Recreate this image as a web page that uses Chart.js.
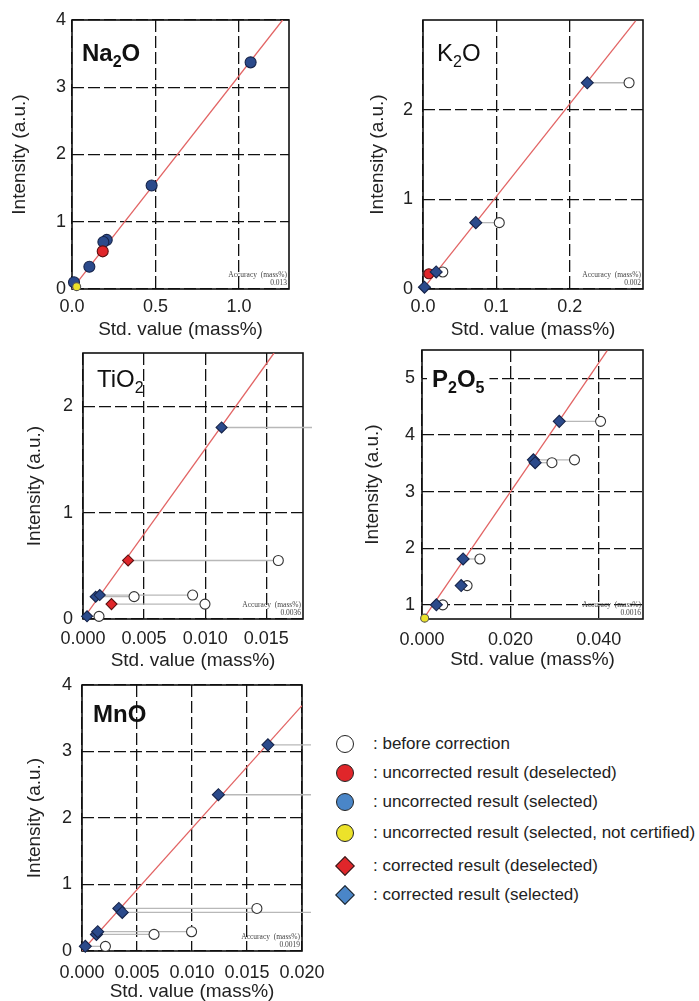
<!DOCTYPE html>
<html>
<head>
<meta charset="utf-8">
<script src="https://cdn.jsdelivr.net/npm/chart.js@4.4.1/dist/chart.umd.min.js"></script>
<style>
  html, body { margin: 0; padding: 0; background: #fff; width: 699px; height: 1001px; overflow: hidden; }
  body { position: relative; font-family: "Liberation Sans", Arial, sans-serif; }
  canvas { position: absolute; }
  .item { position: absolute; left: 373px; font-size: 17px; line-height: 20px; color: #222; white-space: nowrap; }
  .mk { position: absolute; box-sizing: border-box; border: 1.5px solid #222; }
</style>
</head>
<body>
<div id="legend"></div>
<script>
// calibration panels

// Na2O
const naSelX = [1.07, 0.477, 0.208, 0.188, 0.104, 0.012];
const naSelY = [3.37, 1.54, 0.73, 0.70, 0.33, 0.10];
const naDeselX = [0.184];
const naDeselY = [0.56];
const naUncertX = [0.028];
const naUncertY = [0.035];
const naLineX = [0, 1.262];
const naLineY = [0, 4.0];
const naXTicks = [0, 0.5, 1.0];
const naXLabels = ['0.0', '0.5', '1.0'];
const naYTicks = [0, 1, 2, 3, 4];

// K2O
const kCorrX = [0.224, 0.072, 0.018, 0.002];
const kCorrY = [2.30, 0.74, 0.19, 0.02];
const kBeforeX = [0.281, 0.104, 0.027, null];
const kDeselX = [0.008];
const kDeselY = [0.17];
const kLineX = [0, 0.290];
const kLineY = [0, 2.99];
const kXTicks = [0, 0.1, 0.2];
const kXLabels = ['0.0', '0.1', '0.2'];
const kYTicks = [0, 1, 2];

// TiO2
const tiCorrX = [0.01134, 0.00104, 0.00137, 0.00033];
const tiCorrY = [1.80, 0.21, 0.225, 0.025];
const tiBeforeX = [0.0225, 0.00418, 0.00897, 0.00131];
const tiCorrDeselX = [0.00369, 0.00233];
const tiCorrDeselY = [0.55, 0.14];
const tiDeselBeforeX = [0.01598, 0.00998];
const tiLineX = [0, 0.01563];
const tiLineY = [0, 2.5];
const tiXTicks = [0, 0.005, 0.010, 0.015];
const tiXLabels = ['0.000', '0.005', '0.010', '0.015'];
const tiYTicks = [0, 1, 2];

// P2O5
const pCorrX = [0.03105, 0.0252, 0.0256, 0.0093, 0.00886, 0.00325];
const pCorrY = [4.24, 3.56, 3.51, 1.81, 1.34, 1.00];
const pBeforeX = [0.0404, 0.0345, 0.0294, 0.0131, 0.0102, 0.0047];
const pUncertX = [0.0006];
const pUncertY = [0.765];
const pLineX = [0, 0.0419];
const pLineY = [0.716, 5.49];
const pXTicks = [0, 0.020, 0.040];
const pXLabels = ['0.000', '0.020', '0.040'];
const pYTicks = [1, 2, 3, 4, 5];

// MnO
const mnCorrX = [0.0169, 0.0124, 0.00335, 0.00366, 0.00131, 0.00143, 0.0003];
const mnCorrY = [3.10, 2.35, 0.64, 0.58, 0.25, 0.29, 0.07];
const mnBeforeX = [0.0245, 0.0235, 0.0159, 0.0255, 0.00655, 0.00996, 0.00213];
const mnLineX = [0, 0.020];
const mnLineY = [0, 3.69];
const mnXTicks = [0, 0.005, 0.010, 0.015, 0.020];
const mnXLabels = ['0.000', '0.005', '0.010', '0.015', '0.020'];
const mnYTicks = [0, 1, 2, 3, 4];

const legendLabels = [
  ': before correction',
  ': uncorrected result (deselected)',
  ': uncorrected result (selected)',
  ': uncorrected result (selected, not certified)',
  ': corrected result (deselected)',
  ': corrected result (selected)'
];

const FONT = '"Liberation Sans", Arial, sans-serif';
const NAVY = '#2b4a8b', NAVY_EDGE = '#16244a';
const RED = '#e0262a', RED_EDGE = '#5a1010';
const YELLOW = '#ece22a';
const TITLE_SIZE = 19;

Chart.defaults.font.family = FONT;
Chart.defaults.color = '#222';

const pts = (xs, ys) => xs.map((x, i) => ({ x, y: ys[i] }));

// layout of each panel on the page (chart area, canvas box, text positions)
const panels = [
  {
    area: { l: 72, t: 20, r: 289, b: 289 }, box: { x: 6, y: 0, w: 308, h: 342 },
    xTitleY: 330, yTitleX: 20, xPad: 7, yPad: 6,
    x: [0, 1.3], y: [0, 4], xTicks: naXTicks, xLabels: naXLabels, yTicks: naYTicks,
    name: [['Na', 0], ['2', 1], ['O', 0]], bold: true, nameX: 82, nameY: 61, nameBg: false,
    acc: '0.013',
    lines: [pts(naLineX, naLineY)], links: [],
    marks: [
      { data: pts(naSelX, naSelY), style: 'circle', fill: NAVY, edge: NAVY_EDGE, r: 5.5 },
      { data: pts(naDeselX, naDeselY), style: 'circle', fill: RED, edge: RED_EDGE, r: 5.5 },
      { data: pts(naUncertX, naUncertY), style: 'circle', fill: YELLOW, edge: '#555', r: 4 }
    ]
  },
  {
    area: { l: 423, t: 20, r: 643, b: 289 }, box: { x: 364, y: 0, w: 304, h: 342 },
    xTitleY: 330, yTitleX: 378, xPad: 7, yPad: 10,
    x: [0, 0.3], y: [0, 3], xTicks: kXTicks, xLabels: kXLabels, yTicks: kYTicks,
    name: [['K', 0], ['2', 1], ['O', 0]], bold: false, nameX: 437, nameY: 61, nameBg: false,
    acc: '0.002',
    lines: [pts(kLineX, kLineY)],
    links: kCorrX.map((x, i) => kBeforeX[i] == null ? null : [x, kBeforeX[i], kCorrY[i]]).filter(Boolean),
    marks: [
      { data: pts(kBeforeX.filter(v => v != null), kCorrY), style: 'circle', fill: '#fff', edge: '#333', r: 5 },
      { data: pts(kDeselX, kDeselY), style: 'circle', fill: RED, edge: RED_EDGE, r: 5 },
      { data: pts(kCorrX, kCorrY), style: 'rectRot', fill: NAVY, edge: NAVY_EDGE, r: 6 }
    ]
  },
  {
    area: { l: 83, t: 353, r: 303, b: 619 }, box: { x: 21, y: 335, w: 307, h: 338 },
    xTitleY: 661, yTitleX: 35, xPad: 9, yPad: 10,
    x: [0, 0.018], y: [0, 2.5], xTicks: tiXTicks, xLabels: tiXLabels, yTicks: tiYTicks,
    name: [['TiO', 0], ['2', 1]], bold: false, nameX: 97, nameY: 387, nameBg: false,
    acc: '0.0036',
    lines: [pts(tiLineX, tiLineY)],
    links: tiCorrX.map((x, i) => [x, tiBeforeX[i], tiCorrY[i]])
      .concat(tiCorrDeselX.map((x, i) => [x, tiDeselBeforeX[i], tiCorrDeselY[i]])),
    marks: [
      { data: pts(tiBeforeX, tiCorrY).concat(pts(tiDeselBeforeX, tiCorrDeselY)), style: 'circle', fill: '#fff', edge: '#333', r: 5 },
      { data: pts(tiCorrDeselX, tiCorrDeselY), style: 'rectRot', fill: RED, edge: RED_EDGE, r: 5.5 },
      { data: pts(tiCorrX, tiCorrY), style: 'rectRot', fill: NAVY, edge: NAVY_EDGE, r: 5.5 }
    ]
  },
  {
    area: { l: 422, t: 350, r: 643, b: 619 }, box: { x: 359, y: 332, w: 309, h: 340 },
    xTitleY: 660, yTitleX: 373, xPad: 10, yPad: 7,
    x: [0, 0.05], y: [0.75, 5.5], xTicks: pXTicks, xLabels: pXLabels, yTicks: pYTicks,
    name: [['P', 0], ['2', 1], ['O', 0], ['5', 1]], bold: true, nameX: 432, nameY: 387, nameBg: true,
    acc: '0.0016',
    lines: [pts(pLineX, pLineY)],
    links: pCorrX.map((x, i) => [x, pBeforeX[i], pCorrY[i]]),
    marks: [
      { data: pts(pBeforeX, pCorrY), style: 'circle', fill: '#fff', edge: '#333', r: 5 },
      { data: pts(pUncertX, pUncertY), style: 'circle', fill: YELLOW, edge: '#555', r: 4 },
      { data: pts(pCorrX, pCorrY), style: 'rectRot', fill: NAVY, edge: NAVY_EDGE, r: 6 }
    ]
  },
  {
    area: { l: 82, t: 685, r: 302, b: 951 }, box: { x: 21, y: 667, w: 306, h: 337 },
    xTitleY: 992, yTitleX: 35, xPad: 11, yPad: 10,
    x: [0, 0.02], y: [0, 4], xTicks: mnXTicks, xLabels: mnXLabels, yTicks: mnYTicks,
    name: [['MnO', 0]], bold: true, nameX: 93, nameY: 722, nameBg: false,
    acc: '0.0019',
    lines: [pts(mnLineX, mnLineY)],
    links: mnCorrX.map((x, i) => [x, mnBeforeX[i], mnCorrY[i]]),
    marks: [
      { data: pts(mnBeforeX, mnCorrY), style: 'circle', fill: '#fff', edge: '#333', r: 5 },
      { data: pts(mnCorrX, mnCorrY), style: 'rectRot', fill: NAVY, edge: NAVY_EDGE, r: 6 }
    ]
  }
];

function decoPlugin(p) {
  return {
    id: 'deco',
    beforeDatasetsDraw(chart) {
      const a = chart.chartArea, ctx = chart.ctx;
      ctx.save();
      ctx.strokeStyle = '#111';
      ctx.lineWidth = 1.6;
      ctx.strokeRect(a.left, a.top, a.right - a.left, a.bottom - a.top);

      // panel name with subscripts
      const w8 = p.bold ? 'bold ' : '';
      const big = w8 + '24px ' + FONT, small = w8 + '16px ' + FONT;
      let x = p.nameX - p.box.x;
      const base = p.nameY - p.box.y;
      let w = 0;
      p.name.forEach(([t, sub]) => { ctx.font = sub ? small : big; w += ctx.measureText(t).width; });
      if (p.nameBg) {
        ctx.fillStyle = '#fff';
        ctx.fillRect(x - 5, base - 24, w + 10, 36);
      }
      ctx.fillStyle = '#111';
      ctx.textBaseline = 'alphabetic';
      p.name.forEach(([t, sub]) => {
        ctx.font = sub ? small : big;
        ctx.fillText(t, x, sub ? base + 6 : base);
        x += ctx.measureText(t).width;
      });

      // accuracy note
      ctx.font = '7.5px "Liberation Serif", serif';
      ctx.fillStyle = '#444';
      ctx.textAlign = 'right';
      ctx.fillText('Accuracy  (mass%)', a.right - 2, a.bottom - 12);
      ctx.fillText(p.acc, a.right - 2, a.bottom - 4);
      ctx.restore();
    }
  };
}

panels.forEach((p, n) => {
  const cv = document.createElement('canvas');
  cv.width = p.box.w;
  cv.height = p.box.h;
  cv.style.left = p.box.x + 'px';
  cv.style.top = p.box.y + 'px';
  document.body.appendChild(cv);

  const lh = TITLE_SIZE * 1.2;
  const yWidth = p.area.l - p.box.x;
  const xHeight = p.box.y + p.box.h - p.area.b;
  const yTitlePad = p.yTitleX - p.box.x - lh / 2;
  const xTitlePad = p.box.y + p.box.h - p.xTitleY - lh / 2;

  const datasets = [];
  p.links.forEach(([x0, x1, y]) => datasets.push({
    data: [{ x: x0, y }, { x: x1, y }], showLine: true, borderColor: '#b8b8b8', borderWidth: 1.3,
    pointRadius: 0, clip: { left: 0, top: 0, right: 9, bottom: 0 }, order: 3
  }));
  p.lines.forEach(d => datasets.push({
    data: d, showLine: true, borderColor: '#e26464', borderWidth: 1.3, pointRadius: 0, clip: 0, order: 2
  }));
  p.marks.forEach((m, i) => datasets.push({
    data: m.data, pointStyle: m.style, pointRadius: m.r, pointBackgroundColor: m.fill,
    pointBorderColor: m.edge, pointBorderWidth: 1.1, clip: { left: 8, top: 8, right: 0, bottom: 8 },
    order: 1 - i * 0.1
  }));

  new Chart(cv, {
    type: 'scatter',
    data: { datasets },
    options: {
      responsive: false,
      animation: false,
      layout: { padding: { left: 0, bottom: 0, top: p.area.t - p.box.y, right: p.box.x + p.box.w - p.area.r } },
      plugins: { legend: { display: false }, tooltip: { enabled: false } },
      scales: {
        x: {
          type: 'linear', min: p.x[0], max: p.x[1],
          afterBuildTicks: s => { s.ticks = p.xTicks.map(v => ({ value: v })); },
          ticks: { callback: (v, i) => p.xLabels[i], font: { size: 18 }, color: '#222', padding: p.xPad, maxRotation: 0, autoSkip: false },
          grid: { color: '#111', lineWidth: 1.3, drawTicks: false },
          border: { display: false, dash: [12, 4] },
          title: { display: true, text: 'Std. value (mass%)', font: { size: TITLE_SIZE }, color: '#222', padding: { top: 0, bottom: xTitlePad } },
          afterFit: s => { s.height = xHeight; s.paddingLeft = 0; s.paddingRight = 0; }
        },
        y: {
          type: 'linear', min: p.y[0], max: p.y[1],
          afterBuildTicks: s => { s.ticks = p.yTicks.map(v => ({ value: v })); },
          ticks: { callback: v => String(v), font: { size: 18 }, color: '#222', padding: p.yPad },
          grid: { color: '#111', lineWidth: 1.3, drawTicks: false },
          border: { display: false, dash: [12, 4] },
          title: { display: true, text: 'Intensity (a.u.)', font: { size: TITLE_SIZE }, color: '#222', padding: { top: yTitlePad, bottom: 0 } },
          afterFit: s => { s.width = yWidth; s.paddingTop = 0; s.paddingBottom = 0; }
        }
      }
    },
    plugins: [decoPlugin(p)]
  });
});

// figure legend
const legendRows = [744, 773, 802, 833, 866, 895];
const legendMarks = [
  ['circle', '#fff'], ['circle', RED], ['circle', '#4a86c8'], ['circle', YELLOW],
  ['diamond', RED], ['diamond', '#4a86c8']
];
const lg = document.getElementById('legend');
legendLabels.forEach((text, i) => {
  const y = legendRows[i];
  const [shape, color] = legendMarks[i];
  const mk = document.createElement('div');
  mk.className = 'mk';
  mk.style.background = color;
  if (shape === 'circle') {
    Object.assign(mk.style, { left: '336px', top: (y - 9) + 'px', width: '18px', height: '18px', borderRadius: '50%' });
  } else {
    Object.assign(mk.style, { left: '338px', top: (y - 7) + 'px', width: '14px', height: '14px', transform: 'rotate(45deg)' });
  }
  lg.appendChild(mk);
  const t = document.createElement('div');
  t.className = 'item';
  t.style.top = (y - 10) + 'px';
  t.textContent = text;
  lg.appendChild(t);
});
</script>
</body>
</html>
